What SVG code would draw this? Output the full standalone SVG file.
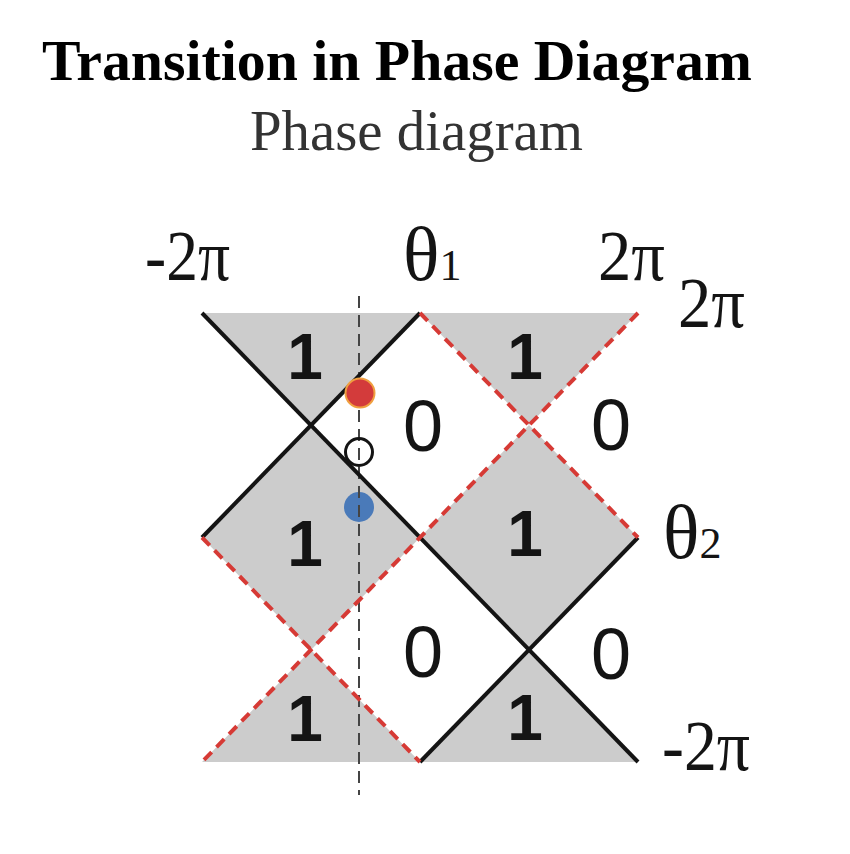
<svg xmlns="http://www.w3.org/2000/svg" width="850" height="854" viewBox="0 0 850 854">
<style>
.bg{fill:#ffffff}
.reg{fill:#cccccc}
.solid{stroke:#141414;stroke-width:4;fill:none;stroke-linecap:butt}
.dash{stroke:#d63a35;stroke-width:4;fill:none;stroke-dasharray:11 7}
.vdash{stroke:#444444;stroke-width:2;stroke-dasharray:12 7;fill:none}
.one{font-family:"Liberation Sans",Arial,sans-serif;font-weight:bold;font-size:64px;fill:#141414;text-anchor:middle}
.zero{font-family:"Liberation Sans",Arial,sans-serif;font-size:72px;fill:#141414;text-anchor:middle}
.ax{font-family:"Liberation Serif","Times New Roman",serif;font-size:71px;fill:#141414}
.th{font-size:76px}
.sub{font-size:44px}
</style>
<rect class="bg" x="0" y="0" width="850" height="854"/>
<text x="42" y="80" font-family="Liberation Serif, Times New Roman, serif" font-weight="bold" font-size="58" textLength="710" lengthAdjust="spacingAndGlyphs" fill="#000">Transition in Phase Diagram</text>
<text x="250" y="150" font-family="Liberation Serif, Times New Roman, serif" font-size="57" textLength="333" lengthAdjust="spacingAndGlyphs" fill="#333">Phase diagram</text>

<g id="regions">
<polygon class="reg" points="202,313 420,313 311,425"/>
<polygon class="reg" points="420,313 638,313 529,425"/>
<polygon class="reg" points="311,425 420,537.5 311,650 202,537.5"/>
<polygon class="reg" points="529,425 638,537.5 529,650 420,537.5"/>
<polygon class="reg" points="311,650 420,762 202,762"/>
<polygon class="reg" points="529,650 638,762 420,762"/>
</g>

<g id="blue-point"><circle cx="359" cy="507" r="15" fill="#4a7ab9"/></g>

<g id="connectors">
<line class="vdash" x1="359" y1="296" x2="359" y2="795"/>
<line class="solid" x1="202" y1="313" x2="638" y2="762"/>
<line class="solid" x1="420" y1="313" x2="202" y2="537.5"/>
<line class="solid" x1="420" y1="762" x2="638" y2="537.5"/>
<line class="dash" x1="420" y1="313" x2="638" y2="537.5"/>
<line class="dash" x1="638" y1="313" x2="202" y2="762"/>
<line class="dash" x1="202" y1="537.5" x2="420" y2="762"/>
</g>

<g id="red-point"><circle cx="360" cy="393" r="14.5" fill="#d33b3b" stroke="#f0a040" stroke-width="2"/></g>
<g id="open-point"><circle cx="359" cy="452" r="13.5" fill="none" stroke="#141414" stroke-width="3"/></g>

<g id="labels-1">
<text class="one" x="305" y="379">1</text>
<text class="one" x="525" y="379">1</text>
<text class="one" x="305" y="566">1</text>
<text class="one" x="525" y="556">1</text>
<text class="one" x="305" y="741">1</text>
<text class="one" x="525" y="740">1</text>
</g>
<g id="labels-0">
<text class="zero" x="423" y="451">0</text>
<text class="zero" x="611" y="450">0</text>
<text class="zero" x="423" y="677">0</text>
<text class="zero" x="611" y="679">0</text>
</g>

<g id="axis-labels">
<text class="ax" x="145" y="280" textLength="85" lengthAdjust="spacingAndGlyphs">-2π</text>
<text class="ax" x="403" y="280"><tspan class="th">θ</tspan><tspan class="sub">1</tspan></text>
<text class="ax" x="598" y="280" textLength="67" lengthAdjust="spacingAndGlyphs">2π</text>
<text class="ax" x="678" y="327" textLength="67" lengthAdjust="spacingAndGlyphs">2π</text>
<text class="ax" x="663" y="558"><tspan class="th">θ</tspan><tspan class="sub">2</tspan></text>
<text class="ax" x="662" y="770" textLength="88" lengthAdjust="spacingAndGlyphs">-2π</text>
</g>
</svg>
